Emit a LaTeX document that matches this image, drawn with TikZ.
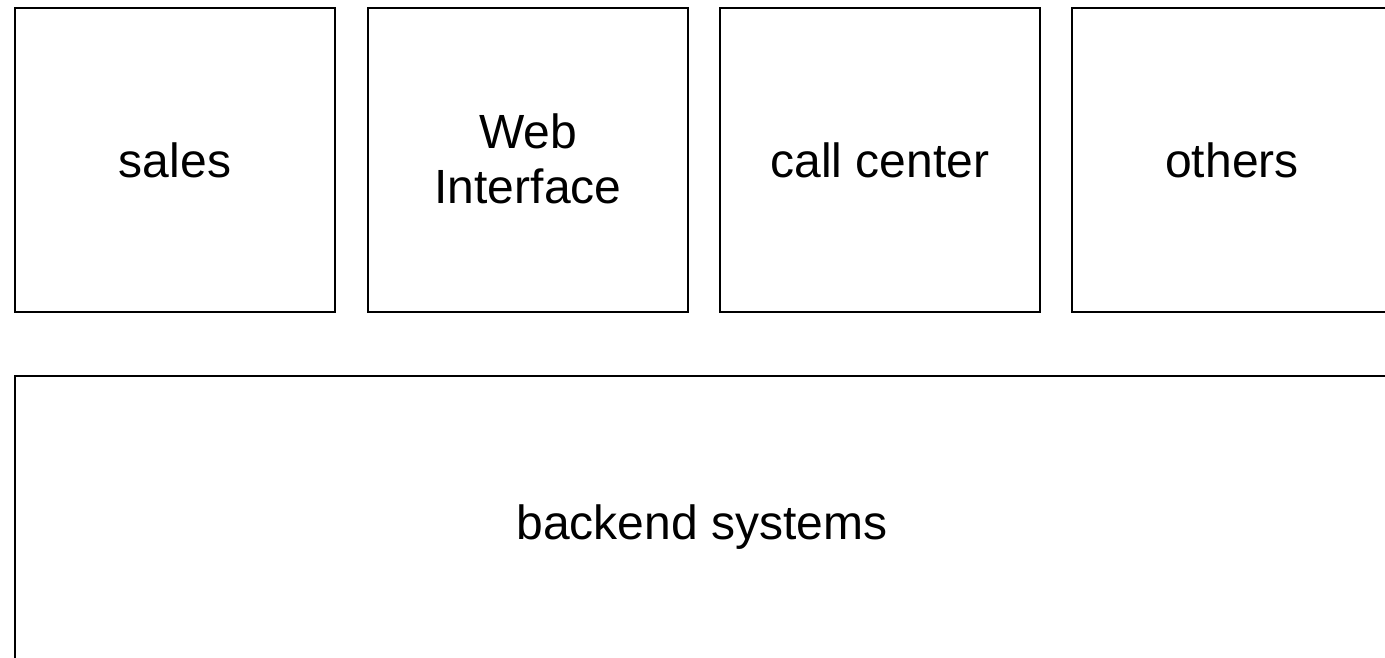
\documentclass[tikz,border=0pt]{standalone}
\usepackage{fontspec}
\setmainfont{Liberation Sans}
\begin{document}
\begin{tikzpicture}[x=1pt,y=-1pt,
  box/.style={draw=black,line width=1.6pt,fill=white},
  lbl/.style={font=\fontsize{48}{55}\selectfont,align=center,inner sep=0pt}]
\useasboundingbox (0,0) rectangle (1385,658);
\clip (0,0) rectangle (1385,658);
\draw[box] (15,8) rectangle (335,312);
\draw[box] (368,8) rectangle (688,312);
\draw[box] (720,8) rectangle (1040,312);
\draw[box] (1072,8) rectangle (1400,312);
\draw[box] (15,376) rectangle (1400,680);
\node[lbl] (sales) at (175,160) {sales};
\node[lbl] (web) at (528,159) {Web\\Interface};
\node[lbl] (call) at (880,160) {call center};
\node[lbl] (others) at (1232,160) {others};
\node[lbl] (backend) at (702,527) {backend systems};
\end{tikzpicture}
\end{document}
